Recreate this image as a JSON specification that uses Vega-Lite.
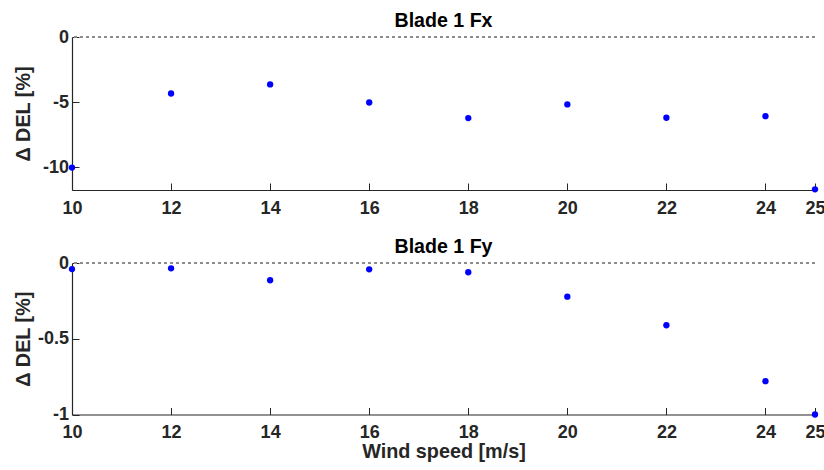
{
  "$schema": "https://vega.github.io/schema/vega-lite/v6.json",
  "autosize": {"type": "pad"},
  "padding": {"left": 13, "top": 11, "right": 4, "bottom": 2},
  "bounds": "flush",
  "spacing": 73,
  "background": "white",
  "datasets": {
    "fx": [
      {"ws": 10, "d": -10.03},
      {"ws": 12, "d": -4.34},
      {"ws": 14, "d": -3.64},
      {"ws": 16, "d": -5.03},
      {"ws": 18, "d": -6.23},
      {"ws": 20, "d": -5.18},
      {"ws": 22, "d": -6.2},
      {"ws": 24, "d": -6.08},
      {"ws": 25, "d": -11.7}
    ],
    "fy": [
      {"ws": 10, "d": -0.04},
      {"ws": 12, "d": -0.035},
      {"ws": 14, "d": -0.114},
      {"ws": 16, "d": -0.042},
      {"ws": 18, "d": -0.061},
      {"ws": 20, "d": -0.222},
      {"ws": 22, "d": -0.411},
      {"ws": 24, "d": -0.78},
      {"ws": 25, "d": -1.0}
    ]
  },
  "config": {
    "view": {"stroke": null},
    "font": "Liberation Sans",
    "axis": {
      "grid": false,
      "domainColor": "#262626",
      "domainWidth": 1.2,
      "tickColor": "#262626",
      "tickWidth": 1,
      "labelFont": "Liberation Sans",
      "labelFontSize": 18,
      "labelFontWeight": "bold",
      "labelColor": "#262626",
      "titleFont": "Liberation Sans",
      "titleFontSize": 19.8,
      "titleFontWeight": "bold",
      "titleColor": "#262626",
      "labelOverlap": false,
      "labelFlush": false
    },
    "title": {
      "font": "Liberation Sans",
      "fontSize": 19.6,
      "fontWeight": "bold",
      "color": "#000000",
      "anchor": "middle",
      "frame": "group",
      "baseline": "alphabetic",
      "offset": -4
    }
  },
  "vconcat": [
    {
      "title": {"text": "Blade 1 Fx"},
      "width": 743,
      "height": 153,
      "data": {"name": "fx"},
      "resolve": {"axis": {"x": "independent", "y": "independent"}},
      "layer": [
        {
          "mark": {"type": "rule", "strokeDash": [3, 3], "color": "#8c8c8c", "strokeWidth": 1},
          "encoding": {"y": {"datum": 0, "type": "quantitative", "axis": null}}
        },
        {
          "mark": {"type": "point", "filled": true, "size": 40, "color": "#0000ff", "opacity": 1},
          "encoding": {
            "x": {
              "field": "ws", "type": "quantitative",
              "scale": {"domain": [10, 25], "nice": false, "zero": false},
              "axis": {"orient": "bottom", "values": [10, 12, 14, 16, 18, 20, 22, 24, 25], "title": null, "ticks": false, "tickSize": 0, "labelPadding": 9, "labelExpr": "'' + datum.value"}
            },
            "y": {
              "field": "d", "type": "quantitative",
              "scale": {"domain": [-11.75, 0], "nice": false, "zero": false},
              "axis": {"orient": "left", "values": [-10, -5, 0], "title": "Δ DEL [%]", "ticks": false, "tickSize": 0, "labelPadding": 3.5, "labelExpr": "'' + datum.value", "titleX": -48.5, "titleY": 76.5, "titleBaseline": "middle", "titleAngle": -90}
            }
          }
        },
        {
          "mark": {"type": "point", "filled": true, "size": 40, "color": "#0000ff", "opacity": 0},
          "encoding": {
            "x": {
              "field": "ws", "type": "quantitative",
              "axis": {"orient": "top", "offset": -153, "values": [10, 12, 14, 16, 18, 20, 22, 24, 25], "title": null, "domain": false, "labels": false, "ticks": true, "tickSize": 7}
            },
            "y": {
              "field": "d", "type": "quantitative",
              "axis": {"orient": "right", "offset": -743, "values": [-10, -5, 0], "title": null, "domain": false, "labels": false, "ticks": true, "tickSize": 7}
            }
          }
        }
      ]
    },
    {
      "title": {"text": "Blade 1 Fy"},
      "width": 743,
      "height": 151.5,
      "data": {"name": "fy"},
      "resolve": {"axis": {"x": "independent", "y": "independent"}},
      "layer": [
        {
          "mark": {"type": "rule", "strokeDash": [3, 3], "color": "#8c8c8c", "strokeWidth": 1},
          "encoding": {"y": {"datum": 0, "type": "quantitative", "axis": null}}
        },
        {
          "mark": {"type": "point", "filled": true, "size": 40, "color": "#0000ff", "opacity": 1},
          "encoding": {
            "x": {
              "field": "ws", "type": "quantitative",
              "scale": {"domain": [10, 25], "nice": false, "zero": false},
              "axis": {"orient": "bottom", "values": [10, 12, 14, 16, 18, 20, 22, 24, 25], "title": "Wind speed [m/s]", "ticks": false, "tickSize": 0, "labelPadding": 9, "labelExpr": "'' + datum.value", "titleBaseline": "alphabetic", "titleY": 42.7, "titleX": 371.5}
            },
            "y": {
              "field": "d", "type": "quantitative",
              "scale": {"domain": [-1, 0], "nice": false, "zero": false},
              "axis": {"orient": "left", "values": [-1, -0.5, 0], "title": "Δ DEL [%]", "ticks": false, "tickSize": 0, "labelPadding": 3.5, "labelExpr": "'' + datum.value", "titleX": -48.5, "titleY": 75.75, "titleBaseline": "middle", "titleAngle": -90}
            }
          }
        },
        {
          "mark": {"type": "point", "filled": true, "size": 40, "color": "#0000ff", "opacity": 0},
          "encoding": {
            "x": {
              "field": "ws", "type": "quantitative",
              "axis": {"orient": "top", "offset": -151.5, "values": [10, 12, 14, 16, 18, 20, 22, 24, 25], "title": null, "domain": false, "labels": false, "ticks": true, "tickSize": 7}
            },
            "y": {
              "field": "d", "type": "quantitative",
              "axis": {"orient": "right", "offset": -743, "values": [-1, -0.5, 0], "title": null, "domain": false, "labels": false, "ticks": true, "tickSize": 7}
            }
          }
        }
      ]
    }
  ]
}
